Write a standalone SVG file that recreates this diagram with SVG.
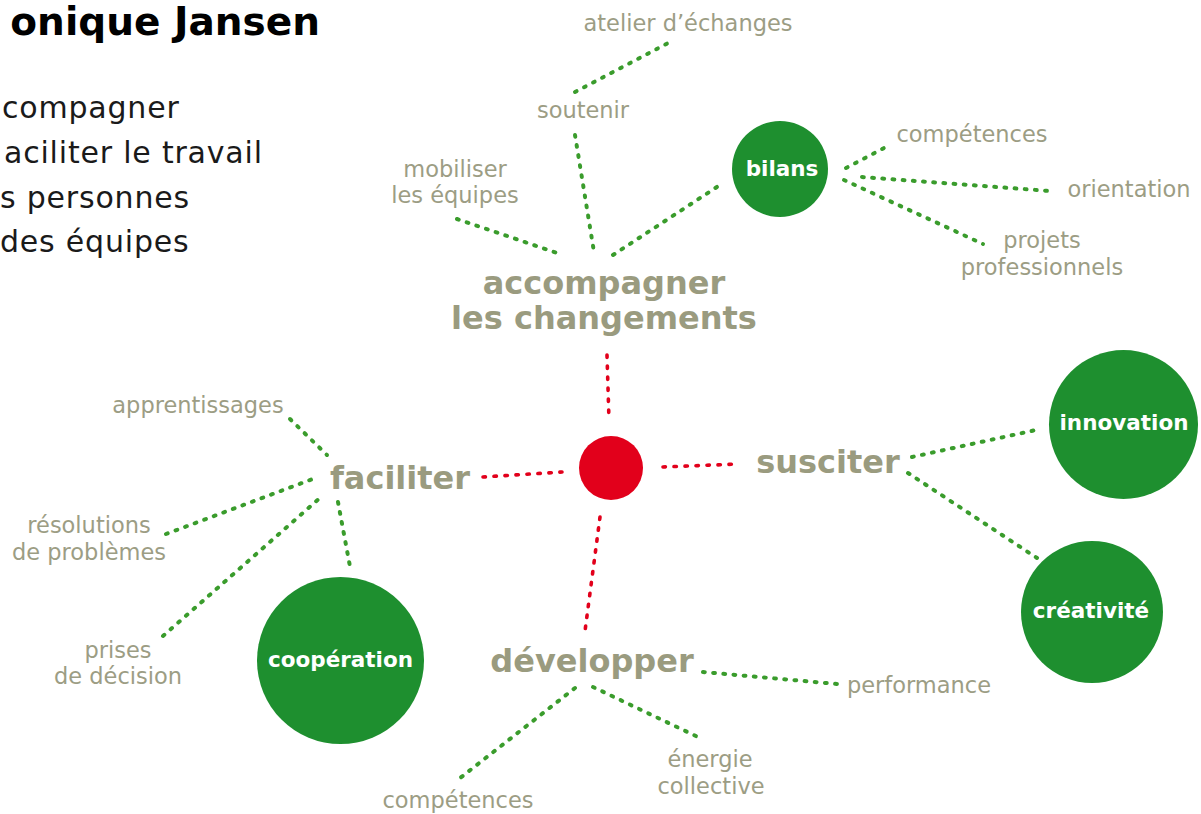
<svg xmlns="http://www.w3.org/2000/svg" width="1201" height="814" viewBox="0 0 1201 814">
<style>
.lbl{font-family:"DejaVu Sans",sans-serif;font-size:22.5px;fill:#9c9d84;text-anchor:middle}
.hd{font-family:"DejaVu Sans",sans-serif;font-weight:bold;font-size:32px;fill:#9a9b7f;text-anchor:middle}
.cl{font-family:"DejaVu Sans",sans-serif;font-weight:bold;font-size:21.5px;fill:#ffffff;text-anchor:middle}
.intro{font-family:"DejaVu Sans",sans-serif;font-size:30px;fill:#1a1a1a;letter-spacing:0.8px}
.g{stroke:#3a9c2c;stroke-width:4;stroke-linecap:round;stroke-dasharray:1.8 8.4;fill:none}
.r{stroke:#e2001b;stroke-width:3.6;stroke-linecap:round;stroke-dasharray:2.4 8.6;fill:none}
.gc{fill:#1e8f2f}
</style>
<rect width="1201" height="814" fill="#ffffff"/>
<g id="title">
<text x="320" y="35" font-family="DejaVu Sans,sans-serif" font-weight="bold" font-size="39" fill="#000000" text-anchor="end">onique Jansen</text>
</g>
<g id="intro">
<text class="intro" x="2" y="118">compagner</text>
<text class="intro" x="4" y="163">aciliter le travail</text>
<text class="intro" x="0" y="208">s personnes</text>
<text class="intro" x="0" y="252">des équipes</text>
</g>
<g id="connectors">
<line class="r" x1="607" y1="355" x2="609" y2="420"/>
<line class="r" x1="483" y1="477" x2="562" y2="472"/>
<line class="r" x1="663" y1="467" x2="739" y2="464"/>
<line class="r" x1="600" y1="517" x2="585" y2="631"/>
<line class="g" x1="457" y1="219" x2="563" y2="255"/>
<line class="g" x1="575" y1="135" x2="594" y2="252"/>
<line class="g" x1="613" y1="255" x2="723" y2="183"/>
<line class="g" x1="575" y1="92" x2="672" y2="41"/>
<line class="g" x1="846" y1="168" x2="884" y2="148"/>
<line class="g" x1="862" y1="177" x2="1050" y2="191"/>
<line class="g" x1="844" y1="180" x2="983" y2="244"/>
<line class="g" x1="290" y1="419" x2="327" y2="455"/>
<line class="g" x1="166" y1="534" x2="318" y2="477"/>
<line class="g" x1="163" y1="636" x2="321" y2="497"/>
<line class="g" x1="338" y1="502" x2="351" y2="572"/>
<line class="g" x1="912" y1="457" x2="1036" y2="430"/>
<line class="g" x1="908" y1="473" x2="1037" y2="558"/>
<line class="g" x1="703" y1="672" x2="837" y2="684"/>
<line class="g" x1="575" y1="688" x2="455" y2="782"/>
<line class="g" x1="593" y1="687" x2="700" y2="738"/>
</g>
<g id="center"><circle cx="611" cy="468" r="32" fill="#e2001b"/></g>
<g id="accompagner"><text class="hd" x="604" y="294">accompagner</text><text class="hd" x="604" y="329">les changements</text></g>
<g id="faciliter"><text class="hd" x="400" y="489">faciliter</text></g>
<g id="susciter"><text class="hd" x="828" y="473">susciter</text></g>
<g id="developper"><text class="hd" x="592" y="672">développer</text></g>
<g id="atelier"><text class="lbl" x="688" y="31">atelier d’échanges</text></g>
<g id="soutenir"><text class="lbl" x="583" y="118">soutenir</text></g>
<g id="mobiliser"><text class="lbl" x="455" y="177">mobiliser</text><text class="lbl" x="455" y="203">les équipes</text></g>
<g id="bilans"><circle class="gc" cx="780" cy="169" r="48"/><text class="cl" x="782" y="176">bilans</text></g>
<g id="competences1"><text class="lbl" x="972" y="142">compétences</text></g>
<g id="orientation"><text class="lbl" x="1129" y="197">orientation</text></g>
<g id="projets"><text class="lbl" x="1042" y="248">projets</text><text class="lbl" x="1042" y="275">professionnels</text></g>
<g id="apprentissages"><text class="lbl" x="198" y="413">apprentissages</text></g>
<g id="resolutions"><text class="lbl" x="89" y="533">résolutions</text><text class="lbl" x="89" y="560">de problèmes</text></g>
<g id="prises"><text class="lbl" x="118" y="658">prises</text><text class="lbl" x="118" y="684">de décision</text></g>
<g id="cooperation"><circle class="gc" cx="340.5" cy="660.5" r="83.5"/><text class="cl" x="340.5" y="667">coopération</text></g>
<g id="innovation"><circle class="gc" cx="1123.5" cy="424.5" r="74.5"/><text class="cl" x="1124" y="430">innovation</text></g>
<g id="creativite"><circle class="gc" cx="1092" cy="612" r="71"/><text class="cl" x="1091" y="618">créativité</text></g>
<g id="performance"><text class="lbl" x="919" y="693">performance</text></g>
<g id="energie"><text class="lbl" x="710" y="767">énergie</text><text class="lbl" x="711" y="794">collective</text></g>
<g id="competences2"><text class="lbl" x="458" y="808">compétences</text></g>
</svg>
